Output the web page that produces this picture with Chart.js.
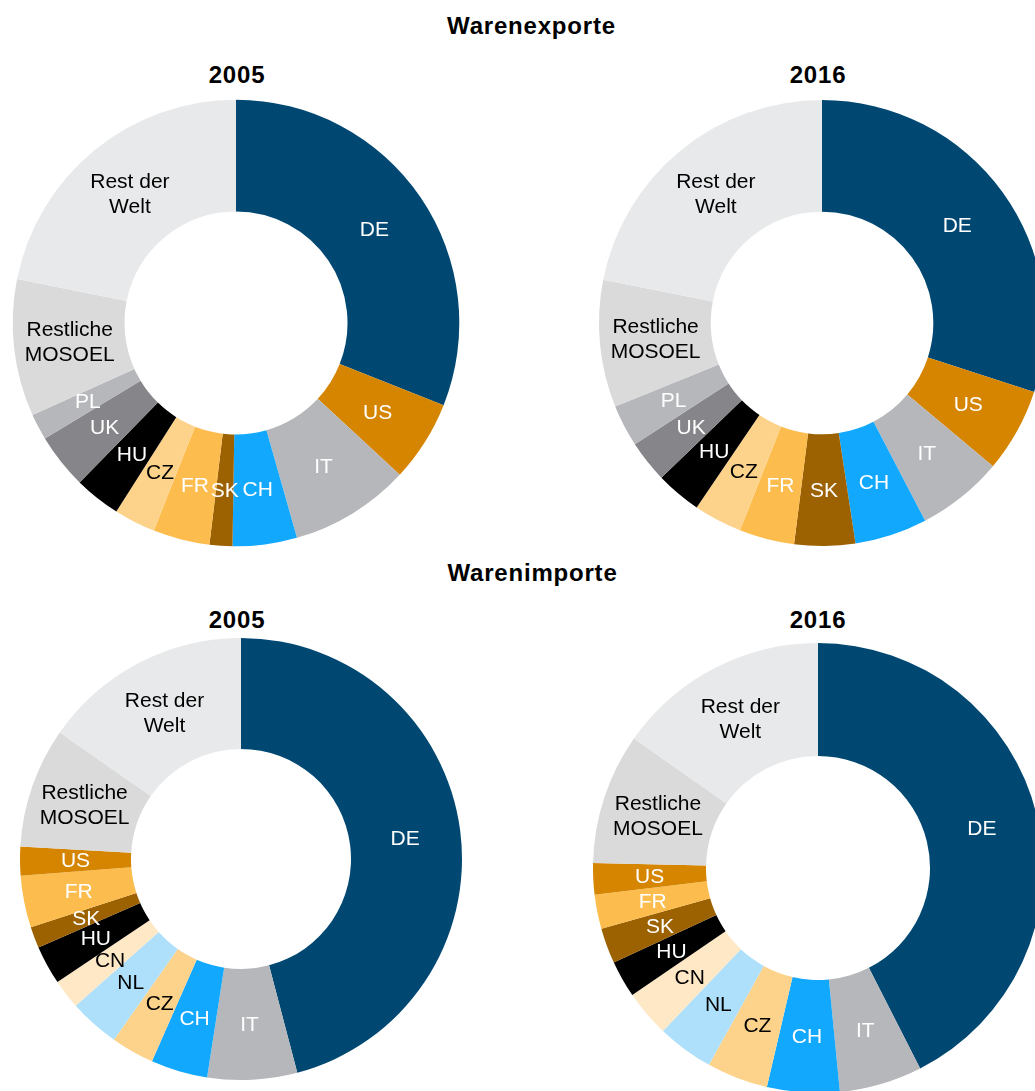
<!DOCTYPE html>
<html>
<head>
<meta charset="utf-8">
<script src="https://cdn.jsdelivr.net/npm/chart.js@4/dist/chart.umd.min.js"></script>
<style>
html,body{margin:0;padding:0;background:#fff;overflow:hidden;width:1035px;height:1091px;}
#wrap{position:relative;width:1035px;height:1091px;overflow:hidden;background:#fff;}
.t{position:absolute;font-family:"Liberation Sans",Arial,sans-serif;font-weight:bold;font-size:24px;line-height:24px;letter-spacing:0.8px;white-space:nowrap;transform:translateX(-50%);color:#000;}
canvas{position:absolute;}
</style>
</head>
<body>
<div id="wrap">
  <div class="t" style="left:531.5px;top:14px">Warenexporte</div>
  <div class="t" style="left:237px;top:63px">2005</div>
  <div class="t" style="left:818px;top:62.5px">2016</div>
  <div class="t" style="left:532.5px;top:561px">Warenimporte</div>
  <div class="t" style="left:237px;top:608px">2005</div>
  <div class="t" style="left:818px;top:608px">2016</div>
  <canvas id="c1" width="480" height="480"></canvas>
  <canvas id="c2" width="480" height="480"></canvas>
  <canvas id="c3" width="480" height="480"></canvas>
  <canvas id="c4" width="480" height="480"></canvas>
</div>
<script>
// ---- Data (shares in %) ----
const exportCategories = ["DE","US","IT","CH","SK","FR","CZ","HU","UK","PL",["Restliche","MOSOEL"],["Rest der","Welt"]];
const exports2005 = [31.0, 5.9, 8.7, 4.65, 1.65, 4.1, 3.0, 3.35, 4.0, 1.9, 9.9, 21.85];
const exports2016 = [30.0, 6.1, 6.25, 5.25, 4.4, 4.0, 3.5, 3.3, 3.05, 3.05, 9.2, 21.9];

const importCategories = ["DE","IT","CH","CZ","NL","CN","HU","SK","FR","US",["Restliche","MOSOEL"],["Rest der","Welt"]];
const imports2005 = [45.9, 6.55, 4.15, 3.15, 3.7, 2.15, 2.85, 1.55, 3.8, 2.1, 8.8, 15.3];
const imports2016 = [42.5, 5.95, 5.2, 4.4, 4.05, 3.35, 2.65, 2.55, 2.45, 2.25, 9.4, 15.25];

// ---- Styles ----
const fillColors = {
  "DE":"#004872","US":"#D58500","IT":"#B6B7BA","CH":"#12A8FE","SK":"#9C6100",
  "FR":"#FDBD4E","CZ":"#FDD38C","HU":"#000000","UK":"#86868A","PL":"#B6B7BA",
  "CN":"#FEE8C5","NL":"#AEE0FC","Restliche MOSOEL":"#DADADB","Rest der Welt":"#E8E9EA"
};
const textColors = {
  "DE":"#FFFFFF","US":"#FFFFFF","IT":"#FFFFFF","CH":"#FFFFFF","SK":"#FFFFFF",
  "FR":"#FFFFFF","CZ":"#000000","HU":"#FFFFFF","UK":"#FFFFFF","PL":"#FFFFFF",
  "CN":"#000000","NL":"#000000","Restliche MOSOEL":"#000000","Rest der Welt":"#000000"
};
const keyOf = l => Array.isArray(l) ? l.join(" ") : l;

const labelPlugin = {
  id: 'sliceLabels',
  afterDatasetsDraw(chart) {
    const ctx = chart.ctx;
    const meta = chart.getDatasetMeta(0);
    ctx.save();
    ctx.font = '21px "Liberation Sans", Arial, sans-serif';
    ctx.textAlign = 'center';
    ctx.textBaseline = 'middle';
    meta.data.forEach((arc, i) => {
      const p = arc.getCenterPoint(true);
      const lab = chart.data.labels[i];
      const lines = Array.isArray(lab) ? lab : [lab];
      ctx.fillStyle = textColors[keyOf(lab)];
      lines.forEach((ln, k) => {
        ctx.fillText(ln, p.x, p.y + 1 + (k - (lines.length - 1) / 2) * 25);
      });
    });
    ctx.restore();
  }
};

function makeDonut(id, cats, vals, cx, cy, r, rin) {
  const cv = document.getElementById(id);
  cv.style.left = (cx - 240) + 'px';
  cv.style.top = (cy - 240) + 'px';
  new Chart(cv, {
    type: 'doughnut',
    data: {
      labels: cats,
      datasets: [{
        data: vals,
        backgroundColor: cats.map(c => fillColors[keyOf(c)]),
        borderWidth: 0,
        hoverOffset: 0
      }]
    },
    options: {
      responsive: false,
      animation: false,
      radius: r,
      cutout: (rin / r * 100) + '%',
      layout: { padding: 0 },
      plugins: { legend: { display: false }, tooltip: { enabled: false }, title: { display: false } },
      events: []
    },
    plugins: [labelPlugin]
  });
}

makeDonut('c1', exportCategories, exports2005, 236, 322.7, 223.3, 111.5);
makeDonut('c2', exportCategories, exports2016, 821.5, 322.5, 223, 111.3);
makeDonut('c3', importCategories, imports2005, 240.8, 858.8, 221, 110);
makeDonut('c4', importCategories, imports2016, 817.8, 868, 225, 112);
</script>
</body>
</html>
